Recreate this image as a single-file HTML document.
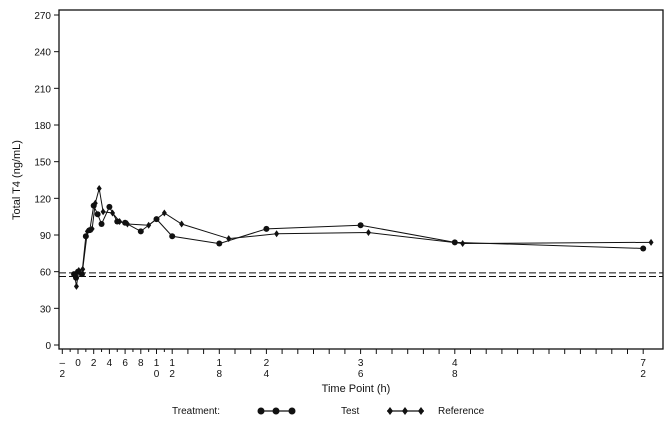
<!DOCTYPE html>
<html><head><meta charset="utf-8"><style>
body{margin:0;background:#fff;}
svg text{font-family:"Liberation Sans",sans-serif;fill:#111;}
</style></head><body>
<svg id="chart" width="672" height="423" xmlns="http://www.w3.org/2000/svg">
<rect x="59" y="10" width="604" height="339" fill="none" stroke="#111" stroke-width="1.3"/>
<g id="yaxis"></g>
<g id="xaxis"></g>
<g id="series"></g>
<text transform="translate(20,180) rotate(-90)" text-anchor="middle" font-size="11">Total T4 (ng/mL)</text>
<text x="356" y="392" text-anchor="middle" font-size="11">Time Point (h)</text>
<g>
<text x="172" y="414" font-size="10">Treatment:</text>
<g>
<line x1="258" y1="411" x2="294" y2="411" stroke="#111" stroke-width="1.2"/>
<circle cx="261" cy="411" r="3.5" fill="#111"/><circle cx="276" cy="411" r="3.5" fill="#111"/><circle cx="292" cy="411" r="3.5" fill="#111"/>
<text x="341" y="414" font-size="10">Test</text></g>
<g>
<line x1="387" y1="411" x2="424" y2="411" stroke="#111" stroke-width="1.2"/>
<path d="M390 407l3 4-3 4-3-4zM405 407l3 4-3 4-3-4zM421 407l3 4-3 4-3-4z" fill="#111"/>
<text x="438" y="414" font-size="10">Reference</text></g>
</g>
</svg>
<script>
const testTimes=[-0.5,-0.25,0,0.5,1,1.5,2,2.5,3,4,5,6,8,10,12,18,24,36,48,72];
const testValues=[58,55,60,58,89,94,114,107,99,113,101,100,93,103,89,83,95,98,84,79];
const refTimes=[-0.4,-0.2,0.1,0.6,1.2,1.8,2.2,2.7,3.2,4.4,5.3,6.3,9,11,13.2,19.2,25.3,37,49,73];
const refValues=[56,48,61,62,93,95,116,128,109,108,101,99,98,108,99,87,91,92,83,84];
const yTicks=[0,30,60,90,120,150,180,210,240,270];
const xTicks=[-2,0,2,4,6,8,10,12,18,24,36,48,72];
const refLines=[59,56];
const NS="http://www.w3.org/2000/svg";
const X=t=>78+t*7.85, Y=v=>345-v*1.2222;
function mk(tag,attrs,parent){const e=document.createElementNS(NS,tag);for(const k in attrs)e.setAttribute(k,attrs[k]);parent.appendChild(e);return e;}
const ya=document.getElementById('yaxis'),xa=document.getElementById('xaxis'),sr=document.getElementById('series');
yTicks.forEach(v=>{const g=mk('g',{},ya);


mk('line',{x1:54,x2:59,y1:Y(v),y2:Y(v),stroke:'#111'},g);
const t=mk('text',{x:51,y:Y(v)+4,'text-anchor':'end','font-size':'10'},g);t.textContent=v;});
for(let h=-2;h<=72;h++){if(h>12&&h%2)continue;mk('line',{x1:X(h),x2:X(h),y1:349,y2:h%2?352:354,stroke:'#111'},xa);}
xTicks.forEach(h=>{const g=mk('g',{},xa);


const s=h<0?['–',String(-h)]:String(h).split('');
s.forEach((c,i)=>{const t=mk('text',{x:X(h),y:366+i*11,'text-anchor':'middle','font-size':'10'},g);t.textContent=c;});});
refLines.forEach(v=>{const l=mk('line',{x1:59,x2:663,y1:Y(v),y2:Y(v),stroke:'#111','stroke-dasharray':'7 3'},sr);

});
function series(times,vals,name,diamond){const g=mk('g',{},sr);


mk('polyline',{points:times.map((t,i)=>X(t)+','+Y(vals[i])).join(' '),fill:'none',stroke:'#111','stroke-width':1},g);
times.forEach((t,i)=>{const x=X(t),y=Y(vals[i]);
const m=diamond?mk('path',{d:`M${x} ${y-3.5}l2.5 3.5-2.5 3.5-2.5-3.5z`,fill:'#111'},g):mk('circle',{cx:x,cy:y,r:3,fill:'#111'},g);

});}
series(testTimes,testValues,'test-series',false);
series(refTimes,refValues,'reference-series',true);
</script>
</body></html>
